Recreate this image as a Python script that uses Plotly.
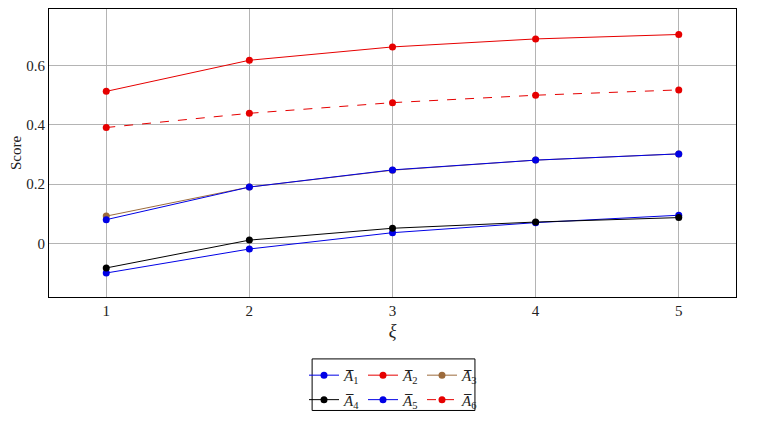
import plotly.graph_objects as go

xi = [1, 2, 3, 4, 5]
A1 = [-0.100, -0.019, 0.036, 0.070, 0.095]
A2 = [0.513, 0.618, 0.663, 0.690, 0.705]
A3 = [0.092, 0.190, 0.247, 0.281, 0.302]
A4 = [-0.083, 0.011, 0.051, 0.072, 0.087]
A5 = [0.080, 0.190, 0.248, 0.281, 0.302]
A6 = [0.391, 0.439, 0.475, 0.500, 0.518]
names = ["A1", "A2", "A3", "A4", "A5", "A6"]
y_ticks = [0, 0.2, 0.4, 0.6]
x_ticks = [1, 2, 3, 4, 5]

series = [A1, A2, A3, A4, A5, A6]
colors = ["#0000e6", "#e60000", "#9c6b3c", "#000000", "#0000e6", "#e60000"]
dashes = ["solid", "solid", "solid", "solid", "solid", "dash"]
legends = ["legend", "legend", "legend", "legend2", "legend2", "legend2"]

FONT = "Times New Roman, Liberation Serif, serif"
fig = go.Figure()
for i, (s, c, d, lg) in enumerate(zip(series, colors, dashes, legends)):
    label = "<i>A\u0305</i><sub>%d</sub>" % (i + 1)
    fig.add_trace(go.Scatter(
        x=xi, y=s, mode="lines+markers", name=label,
        line=dict(color=c, width=1, dash=d),
        marker=dict(color=c, size=7),
        legend=lg,
    ))

leg_common = dict(orientation="h", xanchor="center", x=0.5, yanchor="top",
                  font=dict(family=FONT, size=15, color="#222"),
                  bgcolor="rgba(0,0,0,0)", itemwidth=30, tracegroupgap=0,
                  traceorder="normal", entrywidth=14, entrywidthmode="pixels")
fig.update_layout(
    width=767, height=415,
    margin=dict(l=41, r=39, t=1, b=126),
    plot_bgcolor="white", paper_bgcolor="white",
    font=dict(family=FONT, size=15, color="#222"),
    showlegend=True,
    legend=dict(y=-0.215, **leg_common),
    legend2=dict(y=-0.300, **leg_common),
    xaxis=dict(range=[0.6, 5.4], tickvals=x_ticks, showgrid=True, gridcolor="#b4b4b4",
               gridwidth=1, showline=True, linecolor="black", linewidth=1, mirror=True,
               zeroline=False, ticks="", title=dict(text="<i>ξ</i>", standoff=6),
               tickfont=dict(family=FONT, size=15)),
    yaxis=dict(range=[-0.181, 0.791], tickvals=y_ticks, showgrid=True, gridcolor="#b4b4b4",
               gridwidth=1, showline=True, linecolor="black", linewidth=1, mirror=True,
               zeroline=False, ticks="",
               title=dict(text="Score", standoff=8, font=dict(family=FONT, size=15)),
               tickfont=dict(family=FONT, size=15)),
    shapes=[dict(type="rect", xref="paper", yref="paper",
                 x0=0.383, x1=0.620, y0=-0.394, y1=-0.215,
                 line=dict(color="black", width=1), fillcolor="rgba(0,0,0,0)")],
)
fig.write_html("out.html")
